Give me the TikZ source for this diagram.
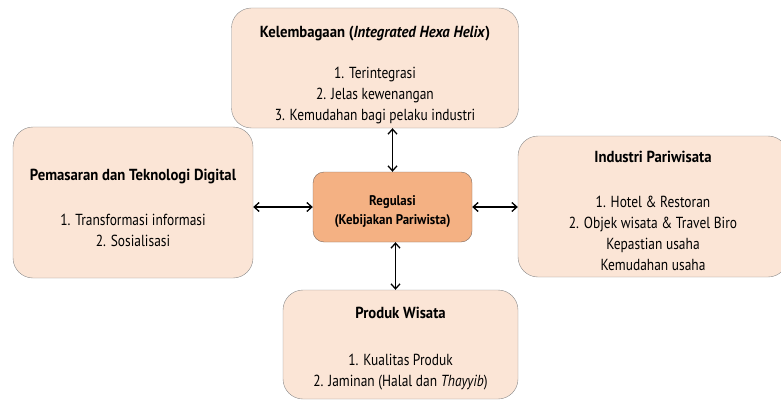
\documentclass[tikz,border=0pt]{standalone}
\usepackage{fontspec}
\setmainfont[FakeStretch=0.84, BoldFeatures={FakeStretch=0.92}, BoldItalicFeatures={FakeStretch=0.92}]{PT Sans}
\usepackage{xcolor}
\usetikzlibrary{arrows.meta, calc}

\definecolor{peach}{HTML}{FBE5D6}
\definecolor{salmon}{HTML}{F4B183}
\definecolor{edgegray}{HTML}{8C8C8C}
\definecolor{edgebrown}{HTML}{7F6A5E}

% pushes a box's text block a little down
\newcommand{\lowerby}[1]{\rule{0pt}{#1}}

\begin{document}
\begin{tikzpicture}[x=1pt, y=-1pt,
    box/.style={draw=edgegray, fill=peach, rounded corners=20pt, align=center,
        font=\fontsize{16}{21}\selectfont, inner sep=0pt},
    regbox/.style={draw=edgebrown, fill=salmon, rounded corners=11pt, align=center,
        font=\fontsize{14}{19}\selectfont\bfseries, inner sep=0pt,
        minimum width=159pt, minimum height=70pt},
    link/.style={{Straight Barb[length=5pt,width=9pt]}-{Straight Barb[length=5pt,width=9pt]}, line width=1.3pt}]
    \useasboundingbox (0,0) rectangle (781,401);

    % Central box
    \node[regbox] (reg) at (392.5,207) {\lowerby{20pt}Regulasi\\(Kebijakan Pariwista)};

    % Outer boxes
    \node[box, minimum width=287pt, minimum height=120pt] (lemb) at (375,68)
        {\lowerby{25pt}\textbf{Kelembagaan (\textit{Integrated Hexa Helix})}\\[20pt]
         1. Terintegrasi\\2. Jelas kewenangan\\3. Kemudahan bagi pelaku industri};
    \node[box, minimum width=240pt, minimum height=151pt] (pem) at (133,202.5)
        {\lowerby{22pt}\textbf{Pemasaran dan Teknologi Digital}\\[24pt]
         1. Transformasi informasi\\2. Sosialisasi};
    \node[box, minimum width=270pt, minimum height=141pt] (ind) at (653,206.5)
        {\lowerby{20pt}\textbf{Industri Pariwisata}\\[24pt]
         1. Hotel \& Restoran\\2. Objek wisata \& Travel Biro\\Kepastian usaha\\Kemudahan usaha};
    \node[box, minimum width=235pt, minimum height=109pt] (prod) at (400.5,344.5)
        {\lowerby{20pt}\textbf{Produk Wisata}\\[26pt]
         1. Kualitas Produk\\2. Jaminan (Halal dan \textit{Thayyib})};

    % Arrows
    \draw[link] (lemb.south -| reg.north) -- (reg.north);
    \draw[link] ([xshift=3pt]reg.south) -- ([xshift=3pt]reg.south |- prod.north);
    \draw[link] (pem.east |- reg.west) -- (reg.west);
    \draw[link] (reg.east) -- (reg.east -| ind.west);
\end{tikzpicture}
\end{document}
